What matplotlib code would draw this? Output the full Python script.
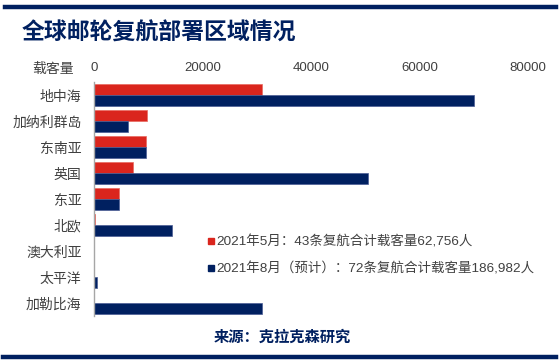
import numpy as np
import matplotlib
matplotlib.use('Agg')
import matplotlib.pyplot as plt
from matplotlib.lines import Line2D

plt.rcParams['font.family'] = ['Liberation Sans', 'Noto Sans CJK SC', 'DejaVu Sans']

regions = ['地中海', '加纳利群岛', '东南亚', '英国', '东亚', '北欧', '澳大利亚', '太平洋', '加勒比海']
may_2021 = [31000, 9800, 9600, 7100, 4600, 250, 0, 0, 0]
aug_2021 = [70000, 6200, 9600, 50500, 4600, 14300, 0, 500, 30900]
xticks = [0, 20000, 40000, 60000, 80000]
legend_labels = ['2021年5月：43条复航合计载客量62,756人',
                 '2021年8月（预计）：72条复航合计载客量186,982人']

red = '#DA251D'
navy = '#002060'
text_col = '#404040'

fig = plt.figure(figsize=(5.6, 3.62), dpi=100)
ax = fig.add_axes([94 / 560, 1 - 316 / 362, 434 / 560, 234 / 362])

y = np.arange(len(regions))
h = 0.44
ax.barh(y - h / 2, may_2021, height=h, color=red, edgecolor='#e86a60', linewidth=0.5)
ax.barh(y + h / 2, aug_2021, height=h, color=navy, edgecolor='#4a5c94', linewidth=0.5)

ax.set_xlim(0, 80000)
ax.set_ylim(len(regions) - 0.5, -0.5)
ax.set_yticks(y)
ax.set_yticklabels(regions, fontsize=10, color=text_col)
ax.xaxis.tick_top()
ax.set_xticks(xticks)
ax.set_xticklabels([str(v) for v in xticks], fontsize=9.5, color=text_col)
ax.tick_params(axis='both', length=0)
ax.tick_params(axis='x', pad=5.5)
ax.tick_params(axis='y', pad=9)
for side in ['top', 'right', 'bottom']:
    ax.spines[side].set_visible(False)
ax.spines['left'].set_color('#a6a6a6')
ax.spines['left'].set_linewidth(1.0)

fig.text(53 / 560, 1 - 69 / 362, '载客量', fontsize=10, color=text_col, ha='center', va='center')

handles = [Line2D([], [], marker='s', linestyle='none', markersize=5, color=c) for c in (red, navy)]
ax.legend(handles, legend_labels, loc='upper left', bbox_to_anchor=(200 / 560, 1 - 229 / 362),
          bbox_transform=fig.transFigure, frameon=False, fontsize=9.7, handlelength=0.6,
          handletextpad=0.1, labelspacing=1.0, borderpad=0, labelcolor=text_col)

fig.text(22 / 560, 1 - 33 / 362, '全球邮轮复航部署区域情况', fontsize=16.5, fontweight='bold',
         color=navy, ha='left', va='center')
fig.text(282 / 560, 1 - 338 / 362, '来源：克拉克森研究', fontsize=11, fontweight='bold',
         color=navy, ha='center', va='center')

fig.add_artist(Line2D([5 / 560, 556 / 560], [1 - 7 / 362] * 2, color=navy, linewidth=3.2,
                      transform=fig.transFigure))
fig.add_artist(Line2D([3 / 560, 556 / 560], [1 - 357 / 362] * 2, color=navy, linewidth=3.2,
                      transform=fig.transFigure))

fig.savefig('out.png', dpi=100)
